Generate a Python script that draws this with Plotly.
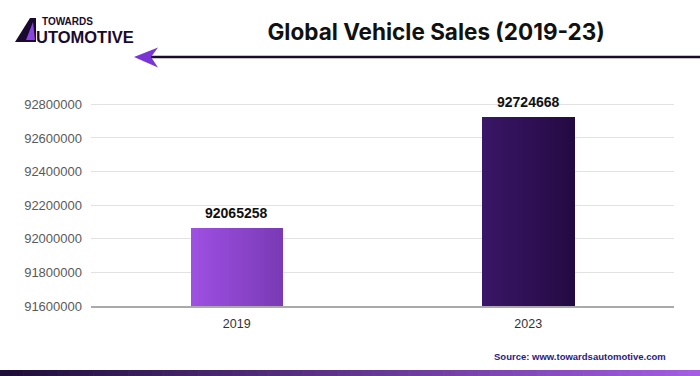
import plotly.graph_objects as go

years = ["2019", "2023"]
sales = [92065258, 92724668]
y_ticks = [91600000, 91800000, 92000000, 92200000, 92400000, 92600000, 92800000]

# gradient colour stops per bar (left -> right)
grad_left = [(158, 80, 226), (58, 22, 102)]
grad_right = [(122, 58, 182), (36, 10, 68)]

N = 24
bar_w = 0.316

def mix(a, b, t):
    return "rgb(%d,%d,%d)" % tuple(round(a[k] + (b[k] - a[k]) * t) for k in range(3))

fig = go.Figure()
for i in range(N):
    t = i / (N - 1)
    fig.add_trace(go.Bar(
        x=years, y=sales,
        width=bar_w / N * 1.15,
        offset=-bar_w / 2 + i * bar_w / N,
        marker=dict(color=[mix(grad_left[j], grad_right[j], t) for j in range(len(years))],
                    line=dict(width=0)),
        showlegend=False, hoverinfo="skip",
    ))

# value labels (category index positions)
for idx, v in enumerate(sales):
    fig.add_annotation(x=idx, y=v, xref="x", yref="y", text="<b>%d</b>" % v, showarrow=False,
                       yanchor="middle", yshift=15,
                       font=dict(family="Liberation Sans, Arial", size=14, color="#111111"))

fig.update_layout(
    width=700, height=376,
    margin=dict(l=91, r=26, t=85, b=70),
    paper_bgcolor="white", plot_bgcolor="white",
    barmode="overlay", bargap=0,
    font=dict(family="Liberation Sans, Arial", color="#555555"),
    xaxis=dict(type="category", showgrid=False, showline=True, linecolor="#aaaaaa",
               linewidth=1.5, ticks="", ticklabelstandoff=5,
               tickfont=dict(size=12.5, color="#333333")),
    yaxis=dict(range=[91600000, 92915000], tickvals=y_ticks,
               ticktext=[str(v) for v in y_ticks], showgrid=True, gridcolor="#e2e2e2",
               gridwidth=1, zeroline=False, ticks="", ticklabelstandoff=8,
               tickfont=dict(size=13, color="#5a5a5a")),
    title=dict(text="<b>Global Vehicle Sales (2019-23)</b>", x=0.623, xanchor="center",
               y=0.915, yanchor="middle",
               font=dict(family="Inter, Liberation Sans, Arial", size=22.5, color="#111111")),
)

def px_x(px):
    return (px - 91) / (674 - 91)

def px_y(py):
    return (306 - py) / (306 - 85)

fig.add_shape(type="line", xref="paper", yref="paper",
              x0=px_x(148), x1=px_x(700), y0=px_y(57), y1=px_y(57),
              line=dict(color="#1a0b2e", width=2.5))
fig.add_shape(type="path", xref="paper", yref="paper",
              path="M %f %f L %f %f L %f %f L %f %f Z" % (
                  px_x(134), px_y(57), px_x(158), px_y(47.5), px_x(151), px_y(57),
                  px_x(158), px_y(67.5)),
              fillcolor="#7a35d6", line=dict(width=0))

# bottom gradient strip
M = 60
for i in range(M):
    t = i / (M - 1)
    fig.add_shape(type="rect", xref="paper", yref="paper",
                  x0=px_x(i * 700 / M), x1=px_x((i + 1) * 700 / M + 0.6),
                  y0=px_y(377), y1=px_y(370),
                  fillcolor=mix((30, 14, 58), (163, 92, 226), t), line=dict(width=0))

# logo
fig.add_shape(type="path", xref="paper", yref="paper",
              path="M %f %f L %f %f L %f %f L %f %f L %f %f Z" % (
                  px_x(15), px_y(42), px_x(30), px_y(18), px_x(36), px_y(18),
                  px_x(36), px_y(42), px_x(29), px_y(42)),
              fillcolor="#1a0b2e", line=dict(width=0))
fig.add_shape(type="path", xref="paper", yref="paper",
              path="M %f %f L %f %f L %f %f Z" % (
                  px_x(26), px_y(40), px_x(33), px_y(22), px_x(35), px_y(40)),
              fillcolor="#8a45e0", line=dict(width=0))
fig.add_annotation(text="<b>TOWARDS</b>", xref="paper", yref="paper",
                   x=px_x(40), y=px_y(21.5), xanchor="left", yanchor="middle", showarrow=False,
                   font=dict(family="Liberation Sans, Arial", size=10, color="#1a0b2e"))
fig.add_annotation(text="<b>UTOMOTIVE</b>", xref="paper", yref="paper",
                   x=px_x(34), y=px_y(37), xanchor="left", yanchor="middle", showarrow=False,
                   font=dict(family="Liberation Sans, Arial", size=16.5, color="#1a0b2e"))

# source
fig.add_annotation(text="<b>Source: www.towardsautomotive.com</b>", xref="paper", yref="paper",
                   x=px_x(668), y=px_y(356), xanchor="right", yanchor="middle", showarrow=False,
                   font=dict(family="Liberation Sans, Arial", size=9.5, color="#2b1a80"))

fig.write_html("out.html", config={"displayModeBar": False},
               post_script="document.body.style.margin='0';")
